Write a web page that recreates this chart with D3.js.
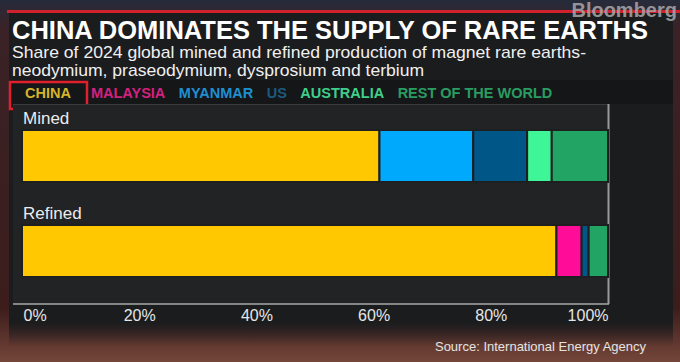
<!DOCTYPE html>
<meta charset="utf-8">
<style>
body { margin: 0; background: #2a1a1a; }
svg { display: block; font-family: "Liberation Sans", Arial, sans-serif; }
</style>
<body>
<svg width="680" height="362"></svg>
<script src="https://cdn.jsdelivr.net/npm/d3@7"></script>
<script>

// data (share of 2024 production, %)
var rows      = ["Mined", "Refined"];
var countries = ["China", "Malaysia", "Myanmar", "US", "Australia", "Rest of the world"];
var mined     = [61, 0, 16, 9.2, 4.2, 9.6];
var refined   = [91.2, 4.3, 0, 1.2, 0, 3.3];
var tickVals  = [0, 20, 40, 60, 80, 100];
var legendLabels = ["CHINA", "MALAYSIA", "MYANMAR", "US", "AUSTRALIA", "REST OF THE WORLD"];

var barColors    = ["#ffc800", "#ff0c99", "#00a9fc", "#005687", "#3ef597", "#22a564"];
var legendColors = ["#d6b429", "#d4207f", "#1e8fd1", "#1c5a7f", "#3fcf8b", "#2a9c62"];

var svg = d3.select("svg");

// ---- backdrop (broadcast look)
var defs = svg.append("defs");
var bg = defs.append("linearGradient").attr("id", "bg")
    .attr("x1", 0).attr("y1", 0).attr("x2", 0).attr("y2", 1);
bg.append("stop").attr("offset", "0%").attr("stop-color", "#262b3b");
bg.append("stop").attr("offset", "8%").attr("stop-color", "#3a2226");
bg.append("stop").attr("offset", "85%").attr("stop-color", "#3c1d1c");
bg.append("stop").attr("offset", "100%").attr("stop-color", "#74463a");
svg.append("rect").attr("width", 680).attr("height", 362).attr("fill", "url(#bg)");

var fade = defs.append("linearGradient").attr("id", "fade")
    .attr("x1", 0).attr("y1", 0).attr("x2", 0).attr("y2", 1);
fade.append("stop").attr("offset", "0%").attr("stop-color", "#1b1c1e");
fade.append("stop").attr("offset", "93%").attr("stop-color", "#1b1c1e");
fade.append("stop").attr("offset", "100%").attr("stop-color", "#1b1c1e").attr("stop-opacity", 0);

// main dark panel
svg.append("rect").attr("x", 9).attr("y", 12).attr("width", 664).attr("height", 334)
    .attr("fill", "url(#fade)");
// red top rule
svg.append("rect").attr("x", 7).attr("y", 10).attr("width", 673).attr("height", 3)
    .attr("fill", "#d0222d");

svg.append("text").attr("x", 677).attr("y", 17).attr("text-anchor", "end")
    .attr("font-size", 20).attr("font-weight", "bold").attr("fill", "#a3a3a5")
    .attr("fill-opacity", 0.9).text("Bloomberg");

// ---- titles
svg.append("text").attr("x", 12).attr("y", 39)
    .attr("font-size", 25).attr("font-weight", "bold").attr("fill", "#fff")
    .attr("textLength", 636).attr("lengthAdjust", "spacingAndGlyphs")
    .text("CHINA DOMINATES THE SUPPLY OF RARE EARTHS");

svg.append("text").attr("x", 12).attr("y", 58)
    .attr("font-size", 17).attr("fill", "#f0f0f0")
    .attr("textLength", 574).attr("lengthAdjust", "spacingAndGlyphs")
    .text("Share of 2024 global mined and refined production of magnet rare earths-");
svg.append("text").attr("x", 12).attr("y", 76)
    .attr("font-size", 17).attr("fill", "#f0f0f0")
    .attr("textLength", 412).attr("lengthAdjust", "spacingAndGlyphs")
    .text("neodymium, praseodymium, dysprosium and terbium");

// ---- legend strip
svg.append("rect").attr("x", 9).attr("y", 80).attr("width", 664).attr("height", 24)
    .attr("fill", "#151618");

var lx = 25;
legendLabels.forEach(function(lbl, i) {
    var t = svg.append("text").attr("x", lx).attr("y", 98)
        .attr("font-size", 14.5).attr("font-weight", "bold")
        .attr("fill", legendColors[i]).text(lbl);
    var w = t.node().getComputedTextLength();
    lx += w + (i === 0 ? 20 : 13.5);
});
svg.append("rect").attr("x", 10).attr("y", 82).attr("width", 77).attr("height", 27)
    .attr("fill", "none").attr("stroke", "#e0202c").attr("stroke-width", 2.5);

// ---- chart panel
var x = d3.scaleLinear().domain([0, 100]).range([22, 608]);
var y = d3.scaleBand().domain(rows).range([130, 277]).paddingInner(0.4526).paddingOuter(0);

svg.append("rect").attr("x", 13).attr("y", 104).attr("width", 596).attr("height", 200)
    .attr("fill", "#222325");
svg.append("line").attr("x1", 13).attr("x2", 608).attr("y1", 104.5).attr("y2", 104.5)
    .attr("stroke", "#3a3b3d").attr("stroke-width", 1);
svg.append("line").attr("x1", 608.5).attr("x2", 608.5).attr("y1", 104).attr("y2", 304)
    .attr("stroke", "#9a9a9a").attr("stroke-width", 2);

var table = rows.map(function(r, j) {
    var vals = j === 0 ? mined : refined;
    var o = { row: r };
    countries.forEach(function(c, i) { o[c] = vals[i]; });
    return o;
});
var stack = d3.stack().keys(countries)(table);

svg.append("g").selectAll("g")
    .data(stack)
    .join("g")
    .attr("fill", function(d, i) { return barColors[i]; })
    .selectAll("rect")
    .data(function(d) { return d.filter(function(s) { return s[1] - s[0] > 0; }); })
    .join("rect")
    .attr("x", function(d) { return x(d[0]); })
    .attr("width", function(d) { return x(d[1]) - x(d[0]); })
    .attr("y", function(d) { return y(d.data.row); })
    .attr("height", y.bandwidth())
    .attr("stroke", "#1e1f21")
    .attr("stroke-width", 2);

svg.append("g").selectAll("text")
    .data(rows)
    .join("text")
    .attr("x", 23)
    .attr("y", function(d) { return y(d) - 6; })
    .attr("font-size", 17).attr("fill", "#ececec")
    .text(function(d) { return d; });

// ---- axis
var axis = svg.append("g").attr("transform", "translate(0,304)")
    .call(d3.axisBottom(x).tickValues(tickVals).tickSize(0).tickPadding(6)
        .tickFormat(function(d) { return d + "%"; }));
axis.select(".domain").remove();
axis.selectAll("text")
    .attr("font-family", "Liberation Sans, Arial, sans-serif")
    .attr("font-size", 16).attr("fill", "#e6e6e6").attr("dy", "0.71em")
    .attr("text-anchor", function(d, i) { return i === 0 ? "start" : (d === 100 ? "end" : "middle"); })
    .attr("x", function(d) { return d === 0 ? 1 : 0; });
axis.selectAll("text").attr("y", 6);
svg.append("line").attr("x1", 13).attr("x2", 609).attr("y1", 304).attr("y2", 304)
    .attr("stroke", "#a8a8a8").attr("stroke-width", 1.5);

svg.append("text").attr("x", 646).attr("y", 351).attr("text-anchor", "end")
    .attr("font-size", 13).attr("fill", "#e4e4e4")
    .text("Source: International Energy Agency");

</script>
</body>
